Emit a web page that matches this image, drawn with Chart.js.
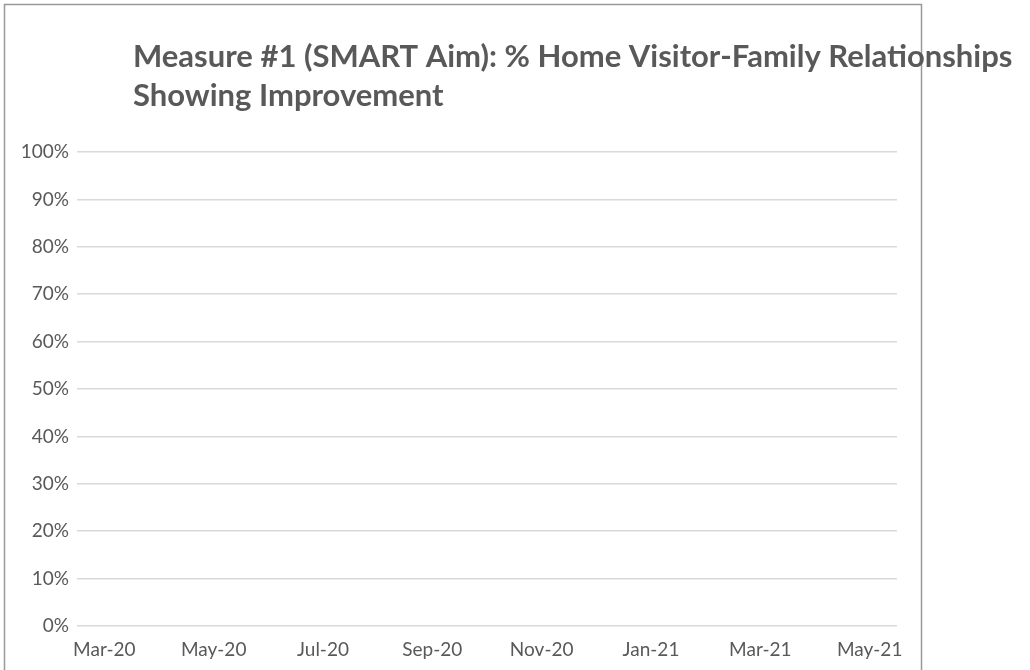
<!DOCTYPE html>
<html>
<head>
<meta charset="utf-8">
<script src="https://cdn.jsdelivr.net/npm/chart.js@4"></script>
<style>
  html, body { margin: 0; padding: 0; background: #fff; }
  #wrap { width: 1030px; height: 670px; }
</style>
</head>
<body>
<div id="wrap"><canvas id="measureChart" width="1030" height="670"></canvas></div>
<script>
// months on the x axis (only every other one gets a label)
const months = ['Mar-20', 'Apr-20', 'May-20', 'Jun-20', 'Jul-20', 'Aug-20', 'Sep-20', 'Oct-20',
  'Nov-20', 'Dec-20', 'Jan-21', 'Feb-21', 'Mar-21', 'Apr-21', 'May-21'];
// no points plotted yet in the source chart
const improvementPct = [null, null, null, null, null, null, null, null,
  null, null, null, null, null, null, null];
const yTicks = [0, 10, 20, 30, 40, 50, 60, 70, 80, 90, 100];
const titleLines = ['Measure #1 (SMART Aim): % Home Visitor-Family Relationships', 'Showing Improvement'];

const textGrey = '#595959';

// frame + left-aligned title, drawn by hand so the title can sit where Excel put it
const framePlugin = {
  id: 'frame',
  afterDraw(chart) {
    const c = chart.ctx;
    c.save();
    c.strokeStyle = '#999999';
    c.lineWidth = 1.5;
    c.strokeRect(4.5, 4.5, 917, 720);
    c.fillStyle = textGrey;
    c.font = 'bold 31px Lato';
    c.textBaseline = 'alphabetic';
    c.fillText(titleLines[0], 133, 67);
    c.fillText(titleLines[1], 133, 106);
    c.restore();
  }
};

const ctx = document.getElementById('measureChart').getContext('2d');
new Chart(ctx, {
  type: 'line',
  data: {
    labels: months,
    datasets: [{
      label: 'Measure #1',
      data: improvementPct,
      borderColor: '#4472c4',
      backgroundColor: '#4472c4',
      spanGaps: false
    }]
  },
  options: {
    responsive: false,
    animation: false,
    layout: { padding: { top: 152, right: 133, bottom: 0, left: 0 } },
    plugins: {
      legend: { display: false },
      tooltip: { enabled: false },
      title: { display: false }
    },
    scales: {
      x: {
        offset: true,
        grid: { display: false },
        border: { display: false },
        afterFit: s => { s.height = 44; },
        ticks: {
          autoSkip: false,
          maxRotation: 0,
          padding: 4,
          color: textGrey,
          font: { family: 'Lato', size: 19 },
          callback: (v, i) => (i % 2 === 0 ? months[i] : '')
        }
      },
      y: {
        min: 0,
        max: 100,
        afterFit: s => { s.width = 77; },
        afterBuildTicks: s => { s.ticks = yTicks.map(v => ({ value: v })); },
        grid: { color: '#d9d9d9', lineWidth: 1.5, drawTicks: false },
        border: { display: false },
        ticks: {
          padding: 8,
          color: textGrey,
          font: { family: 'Lato', size: 19 },
          callback: v => v + '%'
        }
      }
    }
  },
  plugins: [framePlugin]
});
</script>
</body>
</html>
